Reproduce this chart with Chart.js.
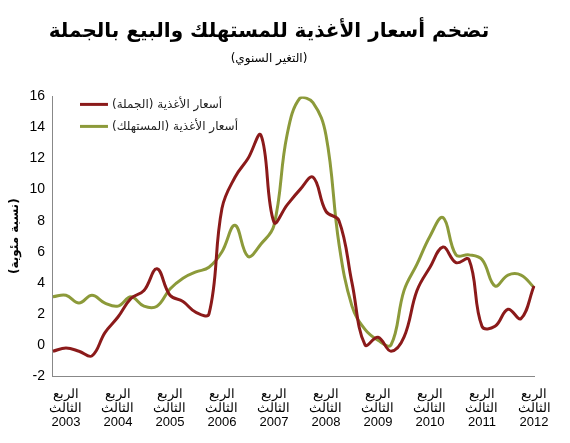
<!DOCTYPE html>
<html><head><meta charset="utf-8">
<script src="https://cdn.jsdelivr.net/npm/chart.js@4"></script>
<style>body{margin:0;background:#fff}#wrap{width:570px;height:443px}</style>
</head><body><div id="wrap"><canvas id="c"></canvas></div>
<script>
'use strict';
// quarters 2003Q2 .. 2012Q3
var years = [2003, 2004, 2005, 2006, 2007, 2008, 2009, 2010, 2011, 2012];
var quarters = [];
years.forEach(function (y) {
    [1, 2, 3, 4].forEach(function (q) {
        if ((y === 2003 && q < 2) || (y === 2012 && q > 3)) return;
        quarters.push(y + 'Q' + q);
    });
});
var wholesale = [-0.4, -0.2, -0.4, -0.7, 0.8, 1.8, 3.0, 3.5, 4.9, 3.2, 2.8, 2.1, 2.0, 8.8, 10.8, 12.0,
    13.5, 7.9, 9.0, 10.0, 10.8, 8.6, 8.0, 4.0, 0.0, 0.5, -0.4, 0.5, 3.5, 5.0, 6.3, 5.3, 5.5, 1.2, 1.2, 2.3, 1.7, 3.8];
var consumer = [3.1, 3.2, 2.7, 3.2, 2.7, 2.5, 3.1, 2.5, 2.5, 3.6, 4.3, 4.7, 5.0, 6.0, 7.7, 5.7,
    6.5, 7.7, 13.5, 15.9, 15.6, 13.5, 6.5, 2.5, 1.0, 0.3, 0.0, 3.5, 5.2, 7.0, 8.2, 5.8, 5.8, 5.5, 3.8, 4.5, 4.5, 3.7];
var seriesNames = ['أسعار الأغذية (الجملة)', 'أسعار الأغذية (المستهلك)'];
var seriesColors = ['#8b1a1a', '#8c9a3a'];
var quarterLabel = ['الربع', 'الثالث'];

var legendPlugin = {
    id: 'inLegend',
    afterDraw: function (chart) {
        var ctx = chart.ctx, a = chart.chartArea;
        ctx.save();
        ctx.font = '12px "DejaVu Sans", sans-serif';
        ctx.textBaseline = 'middle';
        ctx.textAlign = 'left';
        chart.data.datasets.forEach(function (ds, i) {
            var y = a.top + 8 + i * 22, x = a.left + 27;
            ctx.strokeStyle = ds.borderColor; ctx.lineWidth = 3;
            ctx.beginPath(); ctx.moveTo(x, y); ctx.lineTo(x + 28, y); ctx.stroke();
            ctx.fillStyle = '#222';
            ctx.fillText(ds.label, x + 32, y);
        });
        ctx.restore();
    }
};

new Chart('c', {
    type: 'line',
    data: {
        labels: quarters,
        datasets: [
            { label: seriesNames[0], data: wholesale, borderColor: seriesColors[0], borderWidth: 3, pointRadius: 0, tension: 0.4 },
            { label: seriesNames[1], data: consumer, borderColor: seriesColors[1], borderWidth: 3, pointRadius: 0, tension: 0.4 }
        ]
    },
    plugins: [legendPlugin],
    options: {
        responsive: true, maintainAspectRatio: false, animation: false,
        layout: { padding: { left: 4, right: 36, top: 10, bottom: 2 } },
        plugins: {
            legend: { display: false },
            tooltip: { enabled: false },
            title: { display: true, text: 'تضخم أسعار الأغذية للمستهلك والبيع بالجملة', color: '#000',
                font: { family: 'DejaVu Sans', size: 20, weight: 'bold' }, padding: { top: 10, bottom: 8 } },
            subtitle: { display: true, text: '(التغير السنوي)', color: '#000',
                font: { family: 'DejaVu Sans', size: 12 }, padding: { bottom: 30 } }
        },
        scales: {
            x: {
                grid: { display: false, drawTicks: false },
                border: { color: '#888' },
                ticks: {
                    autoSkip: false, maxRotation: 0, color: '#000', padding: 12,
                    font: { family: 'Liberation Sans', size: 13, lineHeight: 1.05 },
                    callback: function (v, i) {
                        var q = quarters[i];
                        return q.slice(-1) === '3' ? [quarterLabel[0], quarterLabel[1], q.slice(0, 4)] : '';
                    }
                }
            },
            y: {
                min: -2, max: 16,
                grid: { display: false, drawTicks: true, tickLength: 5 },
                border: { color: '#888' },
                ticks: { stepSize: 2, color: '#000', font: { family: 'Liberation Sans', size: 14 } },
                title: { display: true, text: '(نسبة مئوية)', color: '#000', font: { family: 'DejaVu Sans', size: 12, weight: 'bold' } }
            }
        }
    }
});
</script></body></html>
